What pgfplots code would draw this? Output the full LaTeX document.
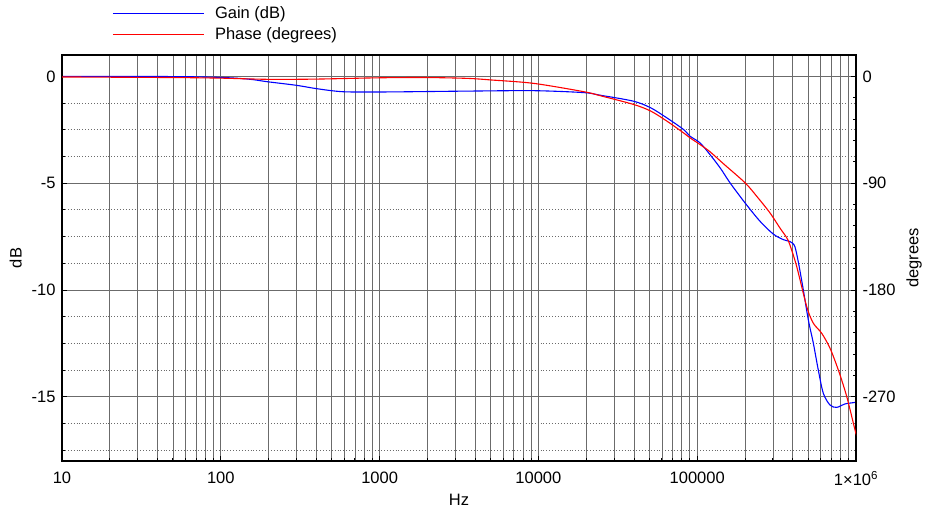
\documentclass[border=0pt]{standalone}
\usepackage{fontspec}
\setmainfont{Liberation Sans}
\usepackage{pgfplots}
\usepackage{pgfplotstable}
\pgfplotsset{compat=1.18}
\pgfplotstableread{
f g
10 0
50 -0.01
100 -0.05
150 -0.13
196 -0.25
300 -0.42
405 -0.58
592 -0.72
1058 -0.73
2000 -0.71
3580 -0.69
9330 -0.67
19300 -0.76
24400 -0.88
39600 -1.16
50900 -1.47
64300 -1.94
81800 -2.48
90150 -2.80
104100 -3.11
120400 -3.66
140000 -4.30
160900 -4.98
200000 -5.92
248600 -6.78
301400 -7.38
348500 -7.64
384100 -7.73
407000 -7.88
417000 -8.10
427000 -8.45
440000 -8.95
465800 -9.99
500700 -11.39
538400 -12.48
578800 -13.74
622400 -14.83
686000 -15.38
756000 -15.49
852500 -15.33
961600 -15.27
1000000 -15.25
}\gaindata
\pgfplotstableread{
f p
10 -0.5
50 -1
100 -1.5
200 -2.5
400 -2.3
1000 -1.2
2000 -1.0
3580 -1.7
5000 -3
9330 -5.9
19300 -12.9
24400 -16.2
39600 -23.6
50900 -29.2
64300 -37.6
81800 -47.5
90150 -51.8
104100 -57.4
120400 -63.5
146000 -73.5
200000 -89.6
237000 -101
287300 -115
332200 -127.8
366100 -135.9
384100 -142.2
423300 -160.2
489300 -193.9
538400 -207.9
608100 -216.4
686000 -229
773700 -247.3
873800 -269.6
985600 -297.9
1000000 -300.6
}\phasedata
\definecolor{gainblue}{RGB}{0,0,255}
\definecolor{phasered}{RGB}{255,0,0}
\begin{document}
\begin{tikzpicture}[font=\fontsize{16.5}{19}\selectfont]
\begin{axis}[
  scale only axis, width=794pt, height=406pt,
  xmode=log, log basis x=10, xmin=10, xmax=1e6, ymin=-18, ymax=1,
  axis line style={black, line width=1.6pt},
  xtick={10,100,1000,10000,100000,1000000},
  xticklabels={10,100,1000,10000,100000,1\texttimes10\textsuperscript{6}},
  extra x ticks={20,30,40,50,60,70,80,90,200,300,400,500,600,700,800,900,2000,3000,4000,5000,6000,7000,8000,9000,20000,30000,40000,50000,60000,70000,80000,90000,200000,300000,400000,500000,600000,700000,800000,900000},
  extra x tick labels={},
  extra x tick style={grid=major, major tick length=3pt},
  minor x tick num=0,
  ytick={-15,-10,-5,0}, yticklabels={-15,-10,-5,0},
  minor ytick={-17.5,-16.25,-13.75,-12.5,-11.25,-8.75,-7.5,-6.25,-3.75,-2.5,-1.25},
  ytick pos=left, xtick pos=bottom,
  tick align=inside,
  major tick length=5pt, minor tick length=3pt,
  tick style={black, line width=1pt},
  xmajorgrids, ymajorgrids, yminorgrids,
  major grid style={black!58, line width=0.9pt},
  minor grid style={black!58, line width=0.9pt, dotted},
  xlabel={Hz}, ylabel={dB},
  ticklabel style={font=\fontsize{16.5}{19}\selectfont},
  label style={font=\fontsize{16.5}{19}\selectfont},
  yticklabel style={xshift=-3pt},
  xticklabel style={yshift=-7pt},
  xlabel style={yshift=-1pt},
  ylabel style={yshift=3pt},
  legend style={draw=none, fill=none, at={(0.063,1.125)}, anchor=north west,
    cells={anchor=west}, row sep=4pt, inner sep=0pt,
    font=\fontsize{16.5}{19}\selectfont},
]
\addlegendimage{legend image code/.code={\draw[gainblue, line width=1.2pt] (0pt,0pt) -- (91pt,0pt); \path (100pt,0pt);}}
\addlegendentry{Gain (dB)}
\addlegendimage{legend image code/.code={\draw[phasered, line width=1.2pt] (0pt,0pt) -- (91pt,0pt); \path (100pt,0pt);}}
\addlegendentry{Phase (degrees)}
\addplot[draw=gainblue, line width=1.1pt, smooth, tension=0.5, forget plot] table[x=f,y=g] {\gaindata};
\end{axis}
\begin{axis}[
  scale only axis, width=794pt, height=406pt,
  xmode=log, xmin=10, xmax=1e6, ymin=-324, ymax=18,
  axis line style={black, line width=1.6pt},
  xtick=\empty, ytick pos=right,
  ytick={-270,-180,-90,0}, yticklabels={-270,-180,-90,0},
  minor y tick num=4,
  tick align=inside,
  major tick length=5pt, minor tick length=3pt,
  tick style={black, line width=1pt},
  ylabel={degrees},
  ticklabel style={font=\fontsize{16.5}{19}\selectfont},
  label style={font=\fontsize{16.5}{19}\selectfont},
  yticklabel style={anchor=west, xshift=3pt},
  ylabel style={yshift=-4pt},
]
\addplot[draw=phasered, line width=1.1pt, smooth, tension=0.5] table[x=f,y=p] {\phasedata};
\end{axis}
\path (current axis.south west) ++(-62pt,-45pt);
\path (current axis.north east) ++(71pt,55pt);
\end{tikzpicture}
\end{document}
